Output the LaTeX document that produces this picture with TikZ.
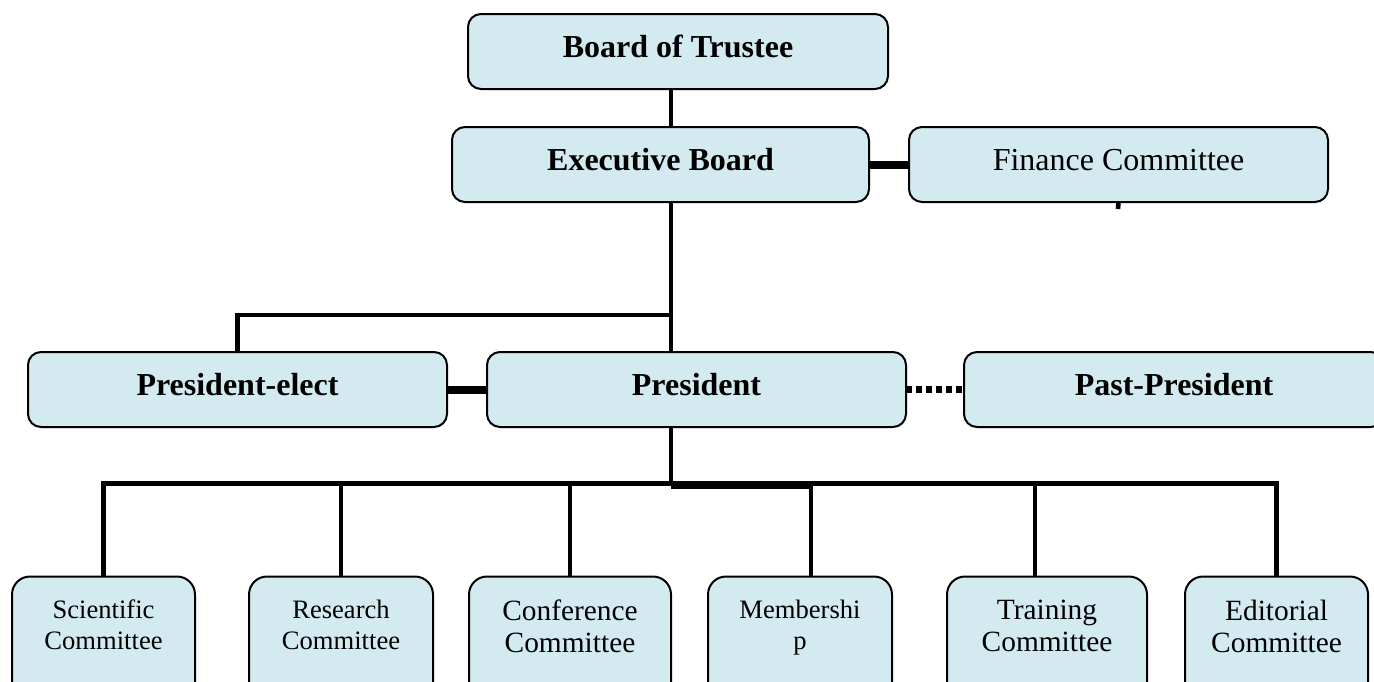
\documentclass[tikz,border=0pt]{standalone}
\usepackage{fontspec}
\setmainfont{Liberation Serif}
\usepackage{tikz}
\usetikzlibrary{positioning}
\definecolor{boxblue}{RGB}{211,234,241}

\begin{document}
\begin{tikzpicture}
    [
      x=0.5pt, y=-0.5pt,
      unit/.style={rectangle,rounded corners=6.5pt,draw=black,line width=1pt,fill=boxblue,outer sep=0pt,inner sep=0pt,minimum width=209.5pt,minimum height=37.5pt,text depth=5pt,font=\fontsize{16}{19}\selectfont\bfseries},
      lighttext/.style={font=\fontsize{16}{19}\selectfont},
      committee/.style={rectangle,rounded corners=9pt,draw=black,line width=1pt,fill=boxblue,outer sep=0pt,inner sep=0pt,anchor=north,minimum height=70pt},
      subtext/.style={align=center,inner sep=0pt,font=\fontsize{13.3}{15.5}\selectfont},
      subtextbig/.style={align=center,inner sep=0pt,font=\fontsize{14.7}{16}\selectfont},
      link/.style={line width=2.3pt},
      busline/.style={line width=2.5pt},
      heavy/.style={line width=4pt},
      dotlink/.style={line width=3.3pt,dash pattern=on 3pt off 2pt},
    ]

    \useasboundingbox (0,0) rectangle (1374,681);
    \clip (0,0) rectangle (1374,681);

    \node (board) [unit, minimum width=210pt] at (678,51.5) {Board of Trustee};
    \node (exec-board) [unit, minimum width=208.5pt] at (660.5,164.5) {Executive Board};
    \node (finance) [unit, lighttext] at (1118.5,164.5) {Finance Committee};
    \node (pres-elect) [unit] at (237.5,389.5) {President-elect};
    \node (president) [unit] at (696.5,389.5) {President};
    \node (past-pres) [unit, minimum width=210pt] at (1174,389.5) {Past-President};

    \node (sci-comm) [committee, minimum width=91.5pt] at (103.5,576.5) {};
    \node (res-comm) [committee, minimum width=92pt] at (341,576.5) {};
    \node (conf-comm) [committee, minimum width=101pt] at (570,576.5) {};
    \node (mem-comm) [committee, minimum width=92pt] at (800,576.5) {};
    \node (train-comm) [committee, minimum width=100pt] at (1047,576.5) {};
    \node (edit-comm) [committee, minimum width=91.5pt] at (1276.5,576.5) {};

    \node (sci-text) [subtext, below=11.5pt of sci-comm.north] {Scientific\\Committee};
    \node (res-text) [subtext, below=11.5pt of res-comm.north] {Research\\Committee};
    \node (conf-text) [subtextbig, below=11.5pt of conf-comm.north] {Conference\\Committee};
    \node (mem-text) [subtext, below=11.5pt of mem-comm.north] {Membershi\\p};
    \node (train-text) [subtextbig, below=11.5pt of train-comm.north] {Training\\Committee};
    \node (edit-text) [subtextbig, below=11.5pt of edit-comm.north] {Editorial\\Committee};

    \coordinate (spine) at (671,0);
    \coordinate (elect-bar) at (0,315);
    \coordinate (comm-bar) at (0,483.5);
    \coordinate (comm-bar-low) at (0,485);
    \coordinate (fin-stub) at (1118,209);
    \coordinate (mem-drop) at ([xshift=5.5pt]mem-comm.north);
    \coordinate (train-drop) at ([xshift=-6pt]train-comm.north);

    \path
    (board.south -| spine) edge [link] (exec-board.north -| spine)
    (exec-board.east) edge [heavy] (finance.west)
    (finance.south) edge [link] (fin-stub)

    (exec-board.south -| spine) edge [link] (president.north -| spine)
    (pres-elect.east) edge [heavy] (president.west)
    (president.east) edge [dotlink] (past-pres.west)
    ;

    \draw [link] (pres-elect.north) |- (spine |- elect-bar);
    \draw [link] (president.south -| spine) -- (spine |- comm-bar);
    \draw [busline] (sci-comm.north) |- (edit-comm.north |- comm-bar) -- (edit-comm.north);
    \draw [heavy] (spine |- comm-bar-low) -- (mem-drop |- comm-bar-low);

    \foreach \c in {res-comm,conf-comm}
      \draw [link] (\c.north) -- (\c.north |- comm-bar);
    \draw [link] (mem-drop) -- (mem-drop |- comm-bar);
    \draw [link] (train-drop) -- (train-drop |- comm-bar);

  \end{tikzpicture}
\end{document}
